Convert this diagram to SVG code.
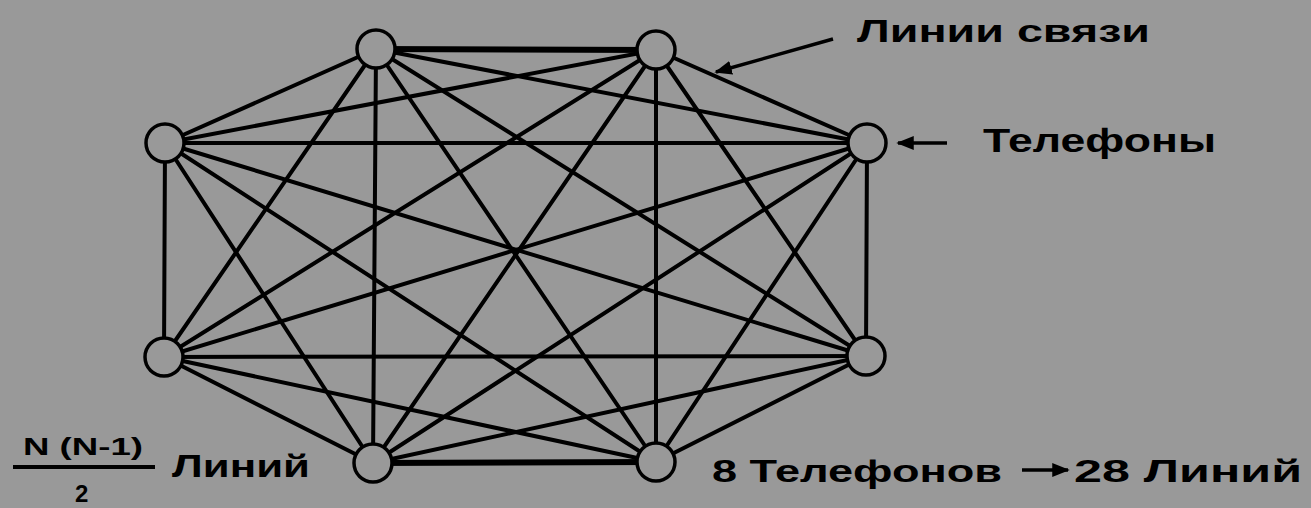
<svg xmlns="http://www.w3.org/2000/svg" width="1311" height="508" viewBox="0 0 1311 508">
<defs>
<style>
.e{stroke:#000;stroke-width:4;stroke-linecap:round}
.t{stroke:#000;stroke-width:6}
.n{fill:#999;stroke:#000;stroke-width:3.5}
.lb{font-family:"Liberation Sans",Arial,sans-serif;font-weight:bold;fill:#000}
</style>
<marker id="ah" viewBox="0 0 10 10" refX="9" refY="5" markerWidth="5" markerHeight="5" orient="auto" markerUnits="strokeWidth">
<path d="M0,1 L10,5 L0,9 Z" fill="#000"/>
</marker>
</defs>
<rect width="1311" height="508" fill="#999"/>
<g id="connectors">
<line class="t" x1="376" y1="49" x2="656" y2="50"/>
<line class="e" x1="376" y1="49" x2="165" y2="143"/>
<line class="e" x1="376" y1="49" x2="867" y2="143"/>
<line class="e" x1="376" y1="49" x2="164" y2="357"/>
<line class="e" x1="376" y1="49" x2="866" y2="356"/>
<line class="e" x1="376" y1="49" x2="373" y2="463"/>
<line class="e" x1="376" y1="49" x2="656" y2="462"/>
<line class="e" x1="656" y1="50" x2="165" y2="143"/>
<line class="e" x1="656" y1="50" x2="867" y2="143"/>
<line class="e" x1="656" y1="50" x2="164" y2="357"/>
<line class="e" x1="656" y1="50" x2="866" y2="356"/>
<line class="e" x1="656" y1="50" x2="373" y2="463"/>
<line class="e" x1="656" y1="50" x2="656" y2="462"/>
<line class="e" x1="165" y1="143" x2="867" y2="143"/>
<line class="e" x1="165" y1="143" x2="164" y2="357"/>
<line class="e" x1="165" y1="143" x2="866" y2="356"/>
<line class="e" x1="165" y1="143" x2="373" y2="463"/>
<line class="e" x1="165" y1="143" x2="656" y2="462"/>
<line class="e" x1="867" y1="143" x2="164" y2="357"/>
<line class="e" x1="867" y1="143" x2="866" y2="356"/>
<line class="e" x1="867" y1="143" x2="373" y2="463"/>
<line class="e" x1="867" y1="143" x2="656" y2="462"/>
<line class="e" x1="164" y1="357" x2="866" y2="356"/>
<line class="e" x1="164" y1="357" x2="373" y2="463"/>
<line class="e" x1="164" y1="357" x2="656" y2="462"/>
<line class="e" x1="866" y1="356" x2="373" y2="463"/>
<line class="e" x1="866" y1="356" x2="656" y2="462"/>
<line class="t" x1="373" y1="463" x2="656" y2="462"/>
</g>
<g id="nA"><circle class="n" cx="376" cy="49" r="19"/></g>
<g id="nB"><circle class="n" cx="656" cy="50" r="19"/></g>
<g id="nC"><circle class="n" cx="165" cy="143" r="19"/></g>
<g id="nD"><circle class="n" cx="867" cy="143" r="19"/></g>
<g id="nE"><circle class="n" cx="164" cy="357" r="19"/></g>
<g id="nF"><circle class="n" cx="866" cy="356" r="19"/></g>
<g id="nG"><circle class="n" cx="373" cy="463" r="19"/></g>
<g id="nH"><circle class="n" cx="656" cy="462" r="19"/></g>
<g id="labels">
<text class="lb" x="857" y="42" font-size="32" textLength="293" lengthAdjust="spacingAndGlyphs">Линии связи</text>
<line x1="833" y1="39" x2="716" y2="72" stroke="#000" stroke-width="3.5" marker-end="url(#ah)"/>
<text class="lb" x="983" y="152" font-size="33" textLength="233" lengthAdjust="spacingAndGlyphs">Телефоны</text>
<line x1="947" y1="143" x2="898" y2="143" stroke="#000" stroke-width="3.5" marker-end="url(#ah)"/>
<text class="lb" x="23" y="455" font-size="24" textLength="120" lengthAdjust="spacingAndGlyphs">N (N-1)</text>
<line x1="13" y1="467" x2="155" y2="467" stroke="#000" stroke-width="4"/>
<text class="lb" x="75" y="502" font-size="24">2</text>
<text class="lb" x="172" y="477" font-size="31" textLength="138" lengthAdjust="spacingAndGlyphs">Линий</text>
<text class="lb" x="712" y="482" font-size="32" textLength="290" lengthAdjust="spacingAndGlyphs">8 Телефонов</text>
<line x1="1022" y1="470" x2="1068" y2="470" stroke="#000" stroke-width="3.5" marker-end="url(#ah)"/>
<text class="lb" x="1074" y="482" font-size="32" textLength="228" lengthAdjust="spacingAndGlyphs">28 Линий</text>
</g>
</svg>
